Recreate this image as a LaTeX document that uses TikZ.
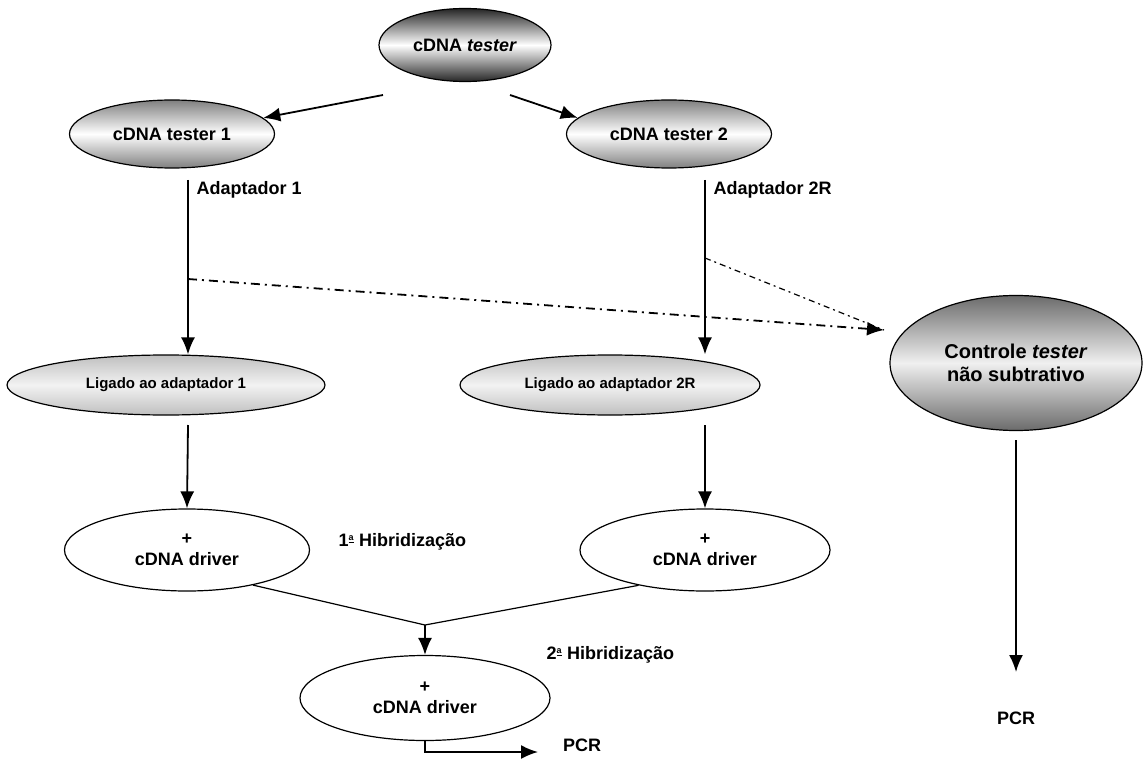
\documentclass[tikz,border=0pt]{standalone}
\usepackage{fontspec}
\setmainfont{Liberation Sans}
\usetikzlibrary{arrows.meta,positioning,shapes.geometric}

\newcommand{\ord}[1]{#1\textsuperscript{\fontsize{9}{9}\selectfont\underline{a}}}

\begin{document}
\begin{tikzpicture}[x=1pt,y=-1pt,>={Latex[length=17pt,width=14pt]},
  blob/.style={draw,ellipse,inner sep=0pt,line width=1.2pt,font=\fontsize{18}{21}\selectfont\bfseries,align=center},
  darkblob/.style={blob,top color=black!85,bottom color=black!85,middle color=white},
  greyblob/.style={blob,top color=black!50,bottom color=black!50,middle color=white},
  paleblob/.style={blob,top color=black!25,bottom color=black!25,middle color=white!95!black},
  plainblob/.style={blob,fill=white},
  flow/.style={->,line width=1.8pt},
  thin/.style={line width=1.2pt},
  dashdot/.style={line width=1.8pt,dash pattern=on 9pt off 5pt on 2pt off 5pt},
  lbl/.style={font=\fontsize{18}{21}\selectfont\bfseries}]
\useasboundingbox (0,0) rectangle (1145,762);
% top part
\node[darkblob,minimum width=172pt,minimum height=73pt] (tester) at (465,45) {cDNA \textit{tester}};
\node[greyblob,minimum width=205pt,minimum height=68pt] (t1) at (172,134) {cDNA tester 1};
\node[greyblob,minimum width=205pt,minimum height=68pt] (t2) at (669,134) {cDNA tester 2};
\coordinate (a1) at (383,95);
\coordinate (a2) at (510,95);
\draw[flow] (a1) -- (t1.10);
\draw[flow] (a2) -- (t2.170);
% adapters
\node[paleblob,minimum width=318pt,minimum height=60pt,font=\fontsize{15}{18}\selectfont\bfseries] (lig1) at (166,385) {Ligado ao adaptador 1};
\node[paleblob,minimum width=300pt,minimum height=60pt,font=\fontsize{15}{18}\selectfont\bfseries] (lig2) at (610,385) {Ligado ao adaptador 2R};
\node[greyblob,minimum width=252pt,minimum height=135pt,font=\fontsize{20}{23}\selectfont\bfseries,top color=black!58,bottom color=black!58,middle color=black!6] (ctrl) at (1016,363) {Controle \textit{tester}\\n\~ao subtrativo};
\coordinate (s1) at (188,180);
\coordinate (s2) at (705,180);
\node[lbl,anchor=west] (ad1) at (193,190) {Adaptador 1};
\node[lbl,anchor=west] (ad2) at (710,190) {Adaptador 2R};
\draw[flow] (s1) -- (s1 |- lig1.north);
\draw[flow] (s2) -- (s2 |- lig2.north);
\coordinate (d1) at (188,279);
\coordinate (d2) at (705,258);
\coordinate (dt) at (884,330);
\draw[dashdot,->] (d1) -- (dt);
\draw[line width=1.2pt,dash pattern=on 6pt off 4pt on 2pt off 4pt] (d2) -- (dt);
% hybridizations
\node[plainblob,minimum width=245pt,minimum height=82pt] (drv1) at (187,550) {+\\cDNA driver};
\node[plainblob,minimum width=250pt,minimum height=82pt] (drv2) at (705,550) {+\\cDNA driver};
\coordinate (b1) at (188,425);
\coordinate (b2) at (705,425);
\draw[flow] (b1) -- (drv1.north);
\draw[flow] (b2) -- (drv2.north);
\node[lbl,anchor=west] (h1) at (335,542) {\ord{1} Hibridiza\c{c}\~ao};
\node[plainblob,minimum width=250pt,minimum height=85pt] (drv3) at (425,698) {+\\cDNA driver};
\coordinate (j) at (425,625);
\draw[thin] (drv1.-28) -- (j) -- (drv2.208);
\draw[flow] (j) -- (drv3.north);
\node[lbl,anchor=west] (h2) at (543,655) {\ord{2} Hibridiza\c{c}\~ao};
% PCR
\coordinate (p1) at (425,740);
\coordinate (p2) at (538,752);
\node[lbl] (pcr1) at (582,745) {PCR};
\draw[flow] (p1) |- (p2);
\coordinate (c1) at (1016,440);
\coordinate (c2) at (1016,672);
\node[lbl] (pcr2) at (1016,718) {PCR};
\draw[flow] (c1) -- (c2);
\end{tikzpicture}
\end{document}
